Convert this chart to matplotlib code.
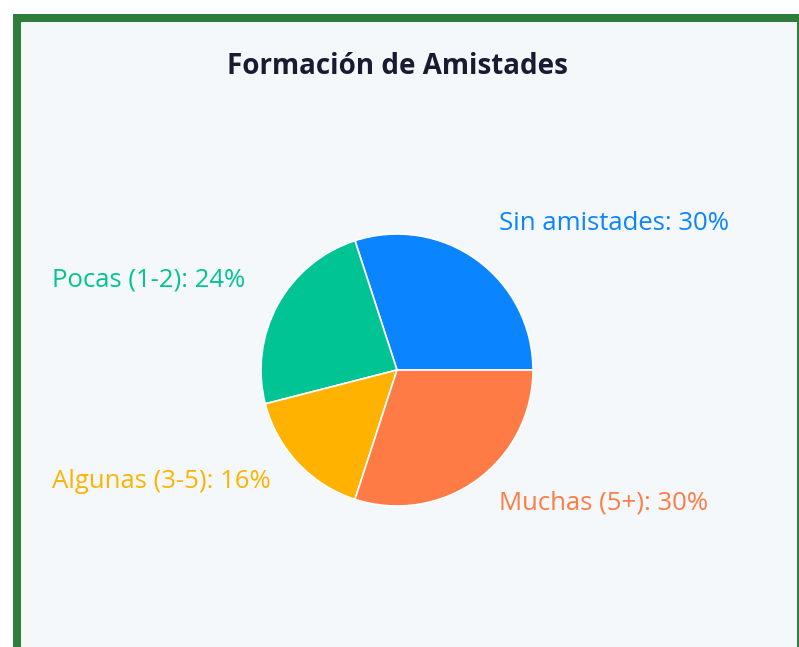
import matplotlib
matplotlib.use("Agg")
import matplotlib.pyplot as plt
from matplotlib.patches import Rectangle
from matplotlib.transforms import offset_copy

categories = ["Sin amistades", "Pocas (1-2)", "Algunas (3-5)", "Muchas (5+)"]
values = [30, 24, 16, 30]
colors = ["#0a84ff", "#00c493", "#ffb300", "#ff7b45"]
title = "Formación de Amistades"

W, H = 799, 647
fig = plt.figure(figsize=(W / 100, H / 100), dpi=100, facecolor="white")

# panel frame
fig.patches.append(Rectangle((13 / W, -0.1), 1.0, (647 - 14) / H + 0.1,
                             transform=fig.transFigure, facecolor="#2e7d3a",
                             edgecolor="none", zorder=-2))
fig.patches.append(Rectangle((21 / W, -0.1), (797 - 21) / W, (647 - 22) / H + 0.1,
                             transform=fig.transFigure, facecolor="#f5f8fa",
                             edgecolor="none", zorder=-1))

cx, cy, r = 397, H - 370, 136
S = 4 * r
ax = fig.add_axes([(cx - S / 2) / W, (cy - S / 2) / H, S / W, S / H])
ax.set_zorder(2)
ax.set_facecolor("none")
labels = [f"{c}: {v}%" for c, v in zip(categories, values)]
wedges, texts = ax.pie(values, colors=colors, startangle=0, counterclock=True,
                       labels=labels, labeldistance=1.27,
                       wedgeprops=dict(edgecolor="white", linewidth=1.2),
                       textprops=dict(fontsize=18.5, family="Open Sans"))
for t, c in zip(texts, colors):
    t.set_color(c)
    t.set_va("center_baseline")
    t.set_transform(offset_copy(t.get_transform(), fig=fig, y=10, units="dots"))
ax.set_xlim(-2, 2)
ax.set_ylim(-2, 2)
ax.set_aspect("equal")
ax.axis("off")

fig.text(397 / W, 1 - 67 / H, title, ha="center", va="center", fontsize=20,
         fontweight="bold", family="Open Sans", color="#1a1a33", zorder=3)

fig.savefig("out.png", dpi=100, facecolor="white")
